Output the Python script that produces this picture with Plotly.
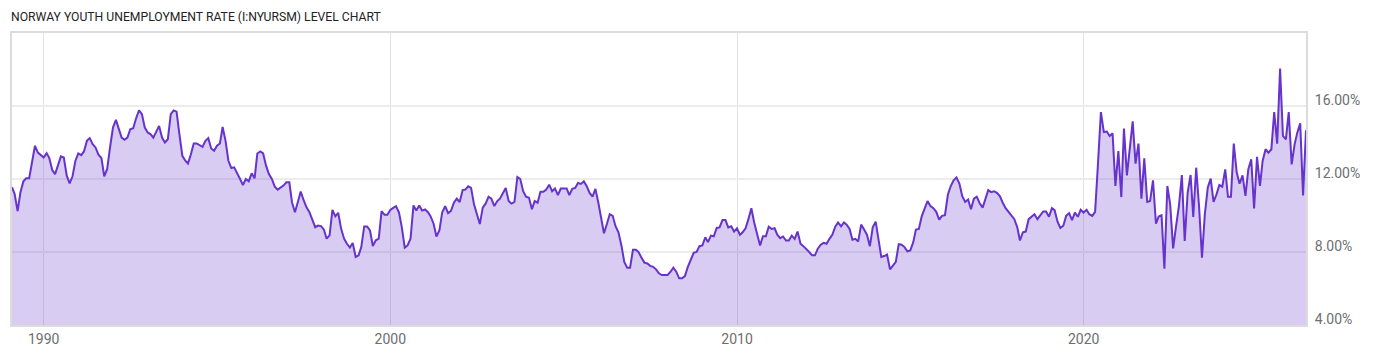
import pandas as pd
import plotly.graph_objects as go

title_text = "NORWAY YOUTH UNEMPLOYMENT RATE (I:NYURSM) LEVEL CHART"
start_month = "1989-02-01"

# Monthly youth unemployment rate (%), Feb 1989 - Dec 1999
rate_1989_1999 = [
    11.55, 11.18, 10.24, 11.27, 11.87, 12.04, 12.04, 13.0, 13.82, 13.45, 13.33, 13.18,
    13.42, 13.15, 12.49, 12.27, 12.76, 13.24, 13.18, 12.18, 11.76, 12.15, 13.0, 13.4,
    13.31, 13.51, 14.09, 14.24, 13.91, 13.73, 13.33, 13.15, 12.15, 12.55, 13.73, 14.82,
    15.24, 14.76, 14.27, 14.15, 14.27, 14.73, 14.78, 15.33, 15.76, 15.55, 14.82, 14.55,
    14.45, 14.27, 14.64, 14.91, 14.27, 14.0, 14.18, 15.55, 15.76, 15.69, 14.45, 13.27,
    13.0, 12.85, 13.36, 13.95, 13.95, 13.85, 13.76, 14.09, 14.24, 13.67, 13.55, 13.82,
    13.95, 14.85, 14.09, 13.0, 12.6, 12.64, 12.36, 12.0, 11.67, 12.0, 11.87, 12.31,
    12.04, 13.4, 13.51, 13.4, 12.73, 12.27, 12.0, 11.58, 11.42, 11.51, 11.64, 11.82,
    11.82, 10.73, 10.18, 10.73, 11.31, 10.85, 10.45, 10.18, 9.82, 9.36, 9.45, 9.42,
    9.22, 8.73, 8.91, 10.31, 9.95, 10.15, 9.27, 8.73, 8.45, 8.24, 8.49, 7.73,
    7.82, 8.27, 9.4, 9.4, 9.18, 8.33, 8.64, 8.73, 10.24, 10.04, 10.04,
]

# Jan 2000 - Dec 2009
rate_2000_2009 = [
    10.31, 10.42, 10.51, 10.18, 9.36, 8.24, 8.36, 8.73, 10.55, 10.27, 10.55, 10.27,
    10.33, 10.18, 9.95, 9.55, 8.85, 9.18, 10.18, 10.51, 10.13, 10.25, 10.7, 10.92,
    10.74, 11.39, 11.42, 11.6, 11.51, 10.61, 10.07, 9.53, 10.43, 10.65, 11.03, 10.92,
    10.52, 10.79, 10.92, 11.24, 11.51, 10.79, 10.65, 10.74, 12.11, 12.0, 11.33, 11.03,
    10.97, 10.34, 10.79, 10.7, 11.3, 11.3, 11.42, 11.69, 11.33, 11.48, 11.12, 11.48,
    11.48, 11.48, 11.12, 11.46, 11.51, 11.78, 11.73, 11.87, 11.6, 11.24, 11.03, 11.46,
    10.7, 9.8, 9.03, 9.53, 10.07, 9.98, 9.41, 9.08, 8.36, 7.46, 7.14, 7.14,
    8.13, 8.13, 8.0, 7.68, 7.42, 7.37, 7.24, 7.19, 7.05, 6.83, 6.74, 6.74,
    6.74, 6.92, 7.14, 6.92, 6.56, 6.56, 6.68, 7.19, 7.55, 7.95, 8.0, 8.32,
    8.36, 8.81, 8.54, 8.9, 8.86, 9.32, 9.35, 9.75, 9.75, 9.35, 9.41, 9.12,
]

# Jan 2010 - Dec 2019
rate_2010_2019 = [
    9.3, 8.94, 9.08, 9.3, 9.8, 10.4, 9.62, 8.99, 8.36, 8.86, 8.86, 9.39,
    9.26, 9.3, 8.95, 8.76, 8.85, 8.63, 8.63, 8.9, 8.72, 9.12, 8.45, 8.32,
    8.18, 8.0, 7.82, 7.82, 8.18, 8.4, 8.5, 8.45, 8.72, 8.94, 9.39, 9.62,
    9.41, 9.62, 9.5, 9.26, 8.67, 8.72, 8.58, 9.5, 9.23, 8.95, 8.32, 9.35,
    9.66, 8.68, 7.73, 7.78, 7.86, 7.05, 7.24, 7.46, 8.43, 8.4, 8.27, 8.04,
    8.09, 8.54, 9.23, 9.26, 9.95, 10.43, 10.79, 10.52, 10.4, 10.2, 9.77, 9.98,
    10.02, 11.15, 11.6, 11.93, 12.09, 11.75, 11.06, 10.74, 10.88, 10.34, 10.92, 11.03,
    10.67, 10.43, 10.83, 11.39, 11.28, 11.33, 11.24, 11.06, 10.7, 10.4, 10.2, 10.02,
    9.8, 9.35, 8.63, 9.08, 9.12, 9.8, 9.93, 10.07, 9.8, 10.02, 10.22, 10.22,
    9.93, 10.4, 10.29, 9.66, 9.32, 9.44, 9.98, 10.13, 9.75, 10.16, 9.93, 10.31,
]

# Jan 2020 - Jun 2026
rate_2020_2026 = [
    10.16, 10.31, 10.07, 9.98, 10.2, 12.9, 15.67, 14.57, 14.6, 14.36, 14.5, 11.62,
    13.53, 11.01, 14.76, 12.2, 13.7, 15.16, 12.84, 13.94, 10.92, 13.13, 10.74, 10.79,
    11.93, 9.55, 9.94, 10.01, 7.09, 11.62, 10.61, 8.2, 9.42, 10.52, 12.22, 8.6,
    11.25, 12.22, 9.92, 12.62, 10.52, 7.69, 10.06, 11.53, 12.02, 10.74, 11.16, 11.67,
    11.58, 12.53, 11.03, 11.03, 13.94, 12.35, 11.74, 12.2, 11.07, 12.53, 13.08, 10.39,
    13.22, 11.62, 12.99, 13.63, 13.44, 13.63, 15.67, 13.94, 18.05, 14.36, 14.17, 15.67,
    12.8, 13.9, 14.54, 15.05, 11.1, 14.67,
]

y_tick_values = [4, 8, 12, 16]
x_tick_years = [1990, 2000, 2010, 2020]

rates = rate_1989_1999 + rate_2000_2009 + rate_2010_2019 + rate_2020_2026
dates = pd.date_range(start_month, periods=len(rates), freq="MS")

line_color = "#6633cc"
label_color = "#6e6e6e"
tick_font = dict(family="Roboto, 'Noto Sans', sans-serif", size=14, color=label_color)

fig = go.Figure(
    go.Scatter(
        x=dates,
        y=rates,
        mode="lines",
        line=dict(color=line_color, width=2),
        fill="tozeroy",
        fillcolor="rgba(102,51,204,0.25)",
        hoverinfo="skip",
    )
)

fig.update_layout(
    width=1400,
    height=357,
    margin=dict(l=10, r=94, t=33, b=30),
    paper_bgcolor="white",
    plot_bgcolor="white",
    showlegend=False,
    title=dict(
        text=title_text,
        xref="container",
        yref="container",
        x=11 / 1400,
        y=1 - 17 / 357,
        xanchor="left",
        yanchor="middle",
        font=dict(family="Roboto, sans-serif", size=12.2, color="#222222"),
    ),
)

fig.update_xaxes(
    type="date",
    range=[dates[0], dates[-1]],
    tickvals=[f"{y}-01-01" for y in x_tick_years],
    ticktext=[str(y) for y in x_tick_years],
    showgrid=True,
    gridcolor="#e2e2e2",
    gridwidth=1,
    zeroline=False,
    showline=True,
    mirror=True,
    linecolor="#dcdcdc",
    linewidth=2,
    ticks="",
    tickfont=tick_font,
)

fig.update_yaxes(
    side="right",
    range=[4, 20],
    tickvals=y_tick_values,
    ticktext=[f"{v:.2f}%" for v in y_tick_values],
    showgrid=True,
    gridcolor="#ececec",
    gridwidth=2,
    zeroline=False,
    showline=True,
    mirror=True,
    linecolor="#dcdcdc",
    linewidth=2,
    ticks="",
    tickfont=tick_font,
    ticklabelshift=-6,
    ticklabelstandoff=4,
)

fig.write_html("out.html")
